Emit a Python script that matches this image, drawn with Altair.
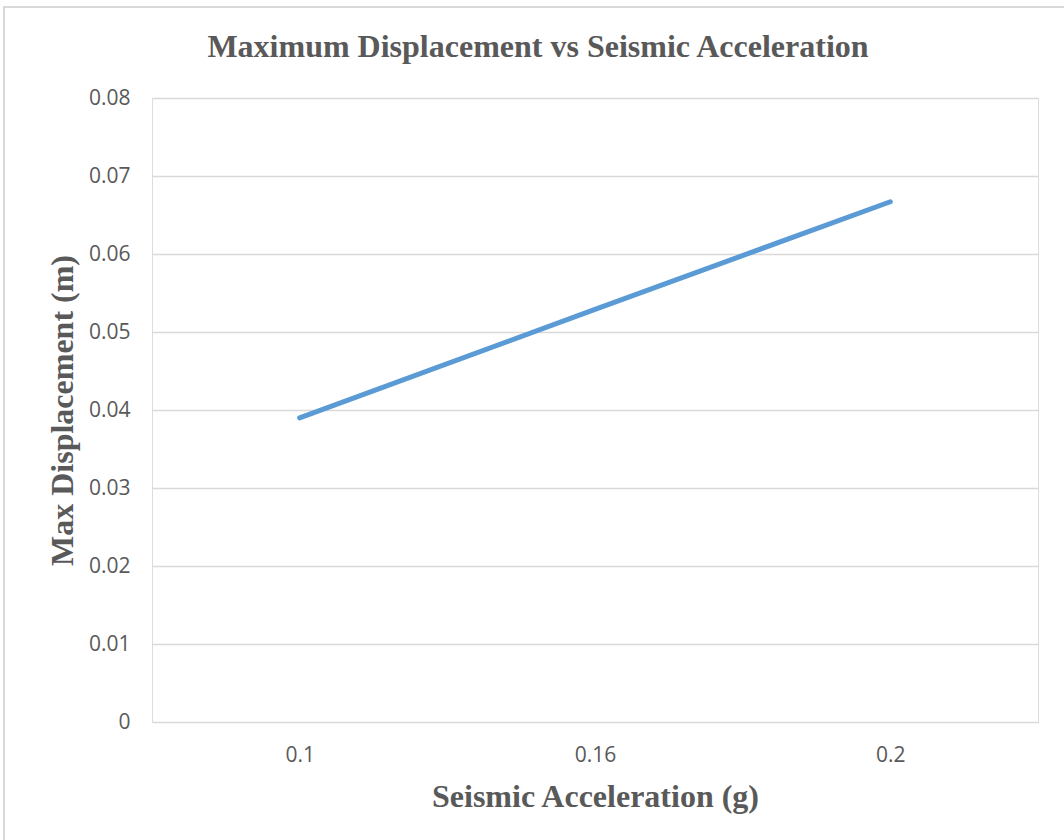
import altair as alt
import pandas as pd

# Peak displacement for each seismic acceleration level
accel_labels = ["0.1", "0.16", "0.2"]
max_displacement = [0.039, 0.0529, 0.0667]
y_ticks = [0, 0.01, 0.02, 0.03, 0.04, 0.05, 0.06, 0.07, 0.08]

df = pd.DataFrame({"accel": accel_labels, "disp": max_displacement})

PLOT_W, PLOT_H = 886, 624
SERIF = "Liberation Serif"
SANS = "Open Sans"
GREY = "#595959"

line = alt.Chart(df).mark_line(
    color="#5B9BD5", strokeWidth=5, strokeCap="round", strokeJoin="round"
).encode(
    x=alt.X(
        "accel:O",
        sort=accel_labels,
        scale=alt.Scale(type="point", padding=0.5),
        axis=alt.Axis(
            title="Seismic Acceleration (g)",
            labelAngle=0,
            labelFont=SANS,
            labelFontSize=21,
            labelColor=GREY,
            labelPadding=22,
            ticks=False,
            domain=False,
            grid=False,
            titleFont=SERIF,
            titleFontSize=32,
            titleFontWeight="bold",
            titleColor=GREY,
            titleX=PLOT_W / 2,
            titleY=74,
            titleBaseline="middle",
            titleAlign="center",
        ),
    ),
    y=alt.Y(
        "disp:Q",
        scale=alt.Scale(domain=[0, 0.08], nice=False, zero=True),
        axis=alt.Axis(
            title="Max Displacement (m)",
            values=y_ticks,
            labelExpr="datum.value == 0 ? '0' : format(datum.value, '.2f')",
            labelFont=SANS,
            labelFontSize=21,
            labelColor=GREY,
            labelPadding=22,
            ticks=False,
            domain=False,
            grid=True,
            gridColor="#D9D9D9",
            gridWidth=1.5,
            titleFont=SERIF,
            titleFontSize=32,
            titleFontWeight="bold",
            titleColor=GREY,
            titleAngle=-90,
            titleX=-90,
            titleY=PLOT_H / 2,
            titleBaseline="middle",
            titleAlign="center",
        ),
    ),
)

# Light outer frame around the whole chart
frame = alt.Chart(pd.DataFrame({"k": [0]})).mark_rect(
    fill=None, stroke="#D9D9D9", strokeWidth=2
).encode(
    x=alt.value(-148),
    x2=alt.value(PLOT_W + 40),
    y=alt.value(-91),
    y2=alt.value(PLOT_H + 140),
)

chart = alt.layer(frame, line).properties(
    width=PLOT_W,
    height=PLOT_H,
    autosize=alt.AutoSizeParams(type="none"),
    padding={"left": 152, "top": 98, "right": 26, "bottom": 118},
    title=alt.TitleParams(
        text="Maximum Displacement vs Seismic Acceleration",
        font=SERIF,
        fontSize=32,
        fontWeight="bold",
        color=GREY,
        anchor="middle",
        frame="group",
        dx=-57,
        offset=-58,
    ),
).configure_view(stroke=None).configure(background="white")

chart.save("out.html", embed_options={"renderer": "svg", "actions": False})
